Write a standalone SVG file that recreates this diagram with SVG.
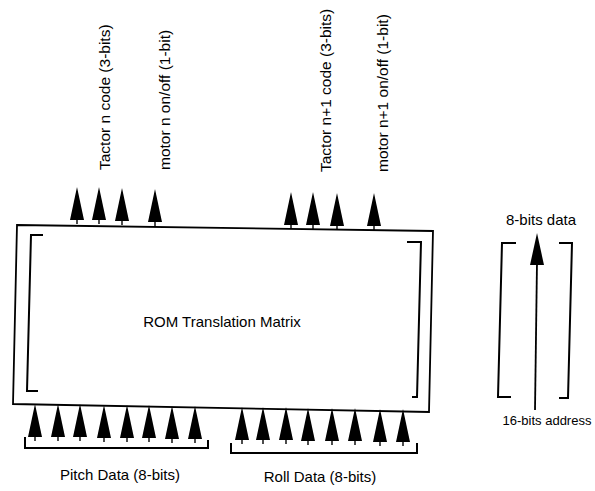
<svg xmlns="http://www.w3.org/2000/svg" xmlns:xlink="http://www.w3.org/1999/xlink" width="595" height="491" viewBox="0 0 595 491">
<style>
.ln{fill:none;stroke:#000;stroke-width:1.8;stroke-linejoin:miter;stroke-linecap:square}
.bk{fill:none;stroke:#000;stroke-width:2;stroke-linecap:square}
.t{font-family:"Liberation Sans",Arial,sans-serif;fill:#000}
.vl{font-size:15.5px}
.lb{font-size:15px}
</style>
<defs>
<g id="arr">
<path d="M0,0 L7,33 L-7,33 Z" fill="#000"/>
<line x1="0" y1="33" x2="0" y2="37" stroke="#000" stroke-width="1.4"/>
</g>
</defs>
<rect width="595" height="491" fill="#fff"/>
<g id="rom">
<polygon class="ln" points="17,225 433,231 429,412 13,404"/>
<polyline class="bk" points="42,235 31,235 27,391 37,391"/>
<polyline class="bk" points="408,242 421,242 417,397 413,397"/>
<text class="t lb" x="222" y="327" text-anchor="middle">ROM Translation Matrix</text>
</g>
<g id="memory">
<polyline class="bk" points="515,243 502,243 498,397 510,397"/>
<polyline class="bk" points="560,243 572,243 568,398 560,398"/>
<line x1="537" y1="262" x2="535" y2="410" stroke="#000" stroke-width="1.8"/>
<path d="M537,233 L544,265 L530,265 Z" fill="#000"/>
<text class="t lb" x="541" y="225" text-anchor="middle">8-bits data</text>
<text class="t" font-size="13" x="547" y="425" text-anchor="middle">16-bits address</text>
</g>
<g id="connectors">
<use xlink:href="#arr" x="77" y="187"/>
<use xlink:href="#arr" x="99" y="187"/>
<use xlink:href="#arr" x="122" y="188"/>
<use xlink:href="#arr" x="155" y="189"/>
<use xlink:href="#arr" x="291" y="192"/>
<use xlink:href="#arr" x="313" y="192"/>
<use xlink:href="#arr" x="337" y="193"/>
<use xlink:href="#arr" x="374" y="193"/>
<use xlink:href="#arr" x="35" y="404"/>
<use xlink:href="#arr" x="58" y="404"/>
<use xlink:href="#arr" x="80" y="404"/>
<use xlink:href="#arr" x="104" y="405"/>
<use xlink:href="#arr" x="127" y="405"/>
<use xlink:href="#arr" x="149" y="405"/>
<use xlink:href="#arr" x="172" y="406"/>
<use xlink:href="#arr" x="195" y="406"/>
<use xlink:href="#arr" x="242" y="407"/>
<use xlink:href="#arr" x="263" y="407"/>
<use xlink:href="#arr" x="286" y="407"/>
<use xlink:href="#arr" x="308" y="408"/>
<use xlink:href="#arr" x="332" y="408"/>
<use xlink:href="#arr" x="355" y="408"/>
<use xlink:href="#arr" x="380" y="409"/>
<use xlink:href="#arr" x="403" y="409"/>
</g>
<g id="labels">
<text class="t vl" transform="translate(110,170) rotate(-90)">Tactor n code (3-bits)</text>
<text class="t vl" transform="translate(170,170) rotate(-90)">motor n on/off (1-bit)</text>
<text class="t vl" transform="translate(331,172) rotate(-90)">Tactor n+1 code (3-bits)</text>
<text class="t vl" transform="translate(388,172) rotate(-90)">motor n+1 on/off (1-bit)</text>
<polyline class="bk" points="25,438 25,448 208,448 208,441"/>
<polyline class="bk" points="231,444 231,453 417,453 417,444"/>
<text class="t lb" x="120" y="480" text-anchor="middle">Pitch Data (8-bits)</text>
<text class="t lb" x="320" y="482" text-anchor="middle">Roll Data (8-bits)</text>
</g>
</svg>
